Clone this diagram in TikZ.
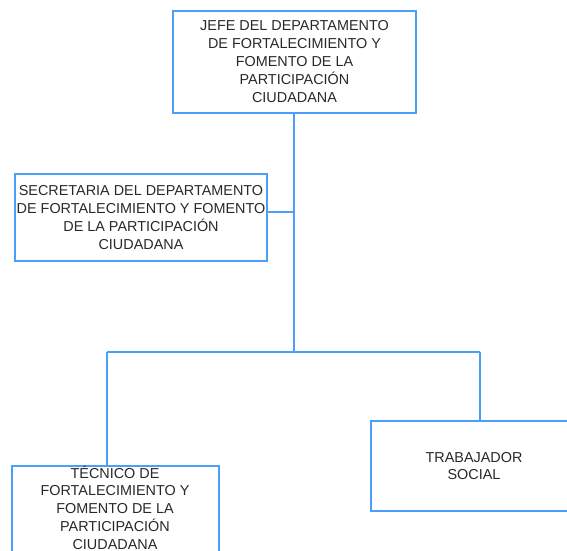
\documentclass[tikz,border=0pt]{standalone}
\usepackage{fontspec}
\setmainfont{Liberation Sans}
\definecolor{linkblue}{RGB}{77,157,250}
\definecolor{txtgray}{RGB}{40,40,40}
\begin{document}
\begin{tikzpicture}[x=1pt,y=-1pt,
  box/.style={draw=linkblue, line width=1.6pt, inner sep=0pt, align=center,
    text=txtgray, font=\fontsize{14.4}{18}\selectfont},
  label/.style={inner sep=0pt, align=center, text=txtgray, font=\fontsize{14.4}{17.8}\selectfont},
  conn/.style={draw=linkblue, line width=1.6pt}]
\useasboundingbox (0,0) rectangle (567,550);
\clip (0,0) rectangle (567,550);
\node[box, minimum width=243pt, minimum height=102pt] (jefe) at (294.5,62)
  {JEFE DEL DEPARTAMENTO\\DE FORTALECIMIENTO Y\\FOMENTO DE LA\\PARTICIPACIÓN\\CIUDADANA};
\node[box, minimum width=252pt, minimum height=87pt, font=\fontsize{14.4}{17.7}\selectfont] (sec) at (141,217.5)
  {SECRETARIA DEL DEPARTAMENTO\\DE FORTALECIMIENTO Y FOMENTO\\DE LA PARTICIPACIÓN\\CIUDADANA};
\node[box, minimum width=207pt, minimum height=100pt] (tec) at (115.5,516) {};
\node[label] (tectext) at (115,507.5)
  {TÉCNICO DE\\FORTALECIMIENTO Y\\FOMENTO DE LA\\PARTICIPACIÓN\\CIUDADANA};
\node[box, minimum width=206pt, minimum height=90pt, font=\fontsize{14.4}{17}\selectfont] (trab) at (474,466)
  {TRABAJADOR\\SOCIAL};
\coordinate (sj) at (294,212);
\coordinate (lb) at (107,352);
\coordinate (mb) at (294,352);
\coordinate (rb) at (480,352);
\draw[conn] (jefe.south -| mb) -- (mb);
\draw[conn] (sec.east |- sj) -- (sj);
\draw[conn] (lb) -- (rb);
\draw[conn] (lb) -- (lb |- tec.north);
\draw[conn] (rb) -- (rb |- trab.north);
\end{tikzpicture}
\end{document}
